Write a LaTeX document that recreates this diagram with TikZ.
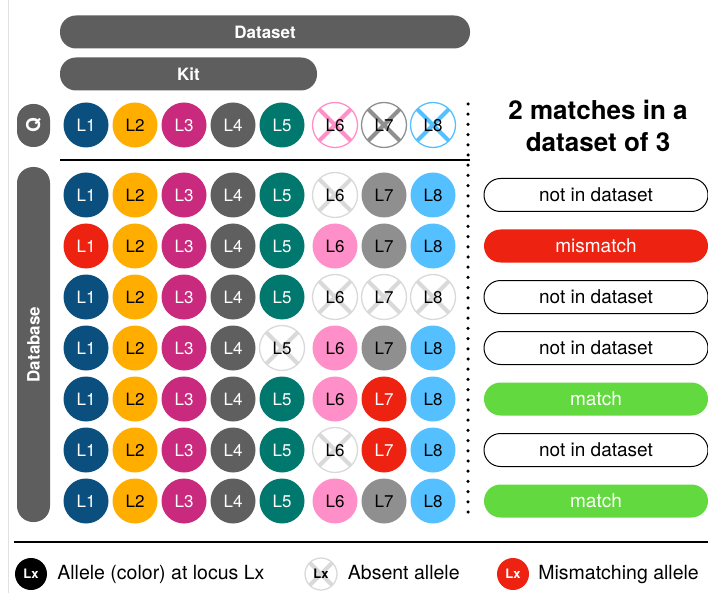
\documentclass[tikz,border=0pt]{standalone}
\usepackage{fontspec}
\setmainfont{TeX Gyre Heros}
\usepackage{tikz}
\usetikzlibrary{positioning}
\definecolor{lcol1}{HTML}{0B4F7F}
\definecolor{lcol2}{HTML}{FFAE00}
\definecolor{lcol3}{HTML}{C92A7D}
\definecolor{lcol4}{HTML}{5F5F5F}
\definecolor{lcol5}{HTML}{00786E}
\definecolor{lcol6}{HTML}{FF8FC8}
\definecolor{lcol7}{HTML}{8F8F8F}
\definecolor{lcol8}{HTML}{55C0FF}
\colorlet{ltxt1}{white}
\colorlet{ltxt2}{black}
\colorlet{ltxt3}{white}
\colorlet{ltxt4}{white}
\colorlet{ltxt5}{white}
\colorlet{ltxt6}{black}
\colorlet{ltxt7}{black}
\colorlet{ltxt8}{black}
\definecolor{barcol}{HTML}{5E5E5E}
\definecolor{miscol}{HTML}{EE2211}
\definecolor{hitcol}{HTML}{62D93F}
\definecolor{gonecol}{HTML}{D9D9D9}
\def\fs#1{\fontsize{#1}{#1}\selectfont}

\tikzset{
	allele/.style={circle, inner sep=0pt, minimum size=45pt, font=\fs{17}},
	locn/.style={allele, fill=lcol#1, text=ltxt#1},
	locr/.style={allele, fill=miscol, text=white},
	loca/.style={absent=gonecol},
	absent/.style={allele, fill=white, draw=#1, line width=1.3pt, text=black,
		path picture={\draw[#1, line width=4pt] (path picture bounding box.north west) -- (path picture bounding box.south east) (path picture bounding box.south west) -- (path picture bounding box.north east);}},
	bar/.style={rectangle, rounded corners=16pt, fill=barcol, text=white, inner sep=0pt, minimum height=33pt, font=\bfseries\fs{17}},
	result/.style={rectangle, rounded corners=16.5pt, minimum width=224pt, minimum height=33pt, inner sep=0pt, font=\fs{19}},
	nods/.style={draw=black, line width=1pt, fill=white},
	mis/.style={fill=miscol, text=white},
	hit/.style={fill=hitcol, text=white},
	keytext/.style={inner sep=0pt, text height=14pt, text depth=4pt, font=\fs{19.5}},
	keydot/.style={allele, minimum size=32pt, font=\bfseries\fs{13}},
}

\begin{document}
\begin{tikzpicture}[x=1pt, y=-1pt]
				\useasboundingbox (0,0) rectangle (708,593);
				\draw[gonecol!80, line width=0.8pt] (8,0) -- (8,593);
				
				\node[bar, minimum width=410pt] (dataset) at (265,32) {Dataset};
				\node[bar, minimum width=257pt] (kit) at (188.5,74) {Kit};
				\node[bar, minimum width=43pt, rotate=90, font=\bfseries\fs{19}] (query) at (33.5,125.5) {Q};
				\node[bar, minimum width=355pt, rotate=90] (database) at (33.5,344.5) {Database};
				
				\foreach \i in {1,...,5}
					\node[locn=\i] (q\i) at ({86+49*(\i-1)}, 125) {L\i};
				\foreach \i in {6,7,8}
					\node[absent=lcol\i] (q\i) at ({90+49*(\i-1)}, 125) {L\i};
				
				\draw[line width=2.5pt] (60,160) -- (470,160);
				\draw[line width=3.5pt, line cap=round, dash pattern=on 0pt off 10.2pt] (468,104) -- (468,522);
				
				\node[font=\bfseries\fontsize{26}{32}\selectfont, align=center] (title) at (598,126) {2 matches in a\\dataset of 3};
				
				\foreach \r/\states in {1/{n,n,n,n,n,a,n,n}, 2/{r,n,n,n,n,n,n,n}, 3/{n,n,n,n,n,a,a,a}, 4/{n,n,n,n,a,n,n,n}, 5/{n,n,n,n,n,n,r,n}, 6/{n,n,n,n,n,a,r,n}, 7/{n,n,n,n,n,n,n,n}}
					\foreach \s [count=\i] in \states
						\node[loc\s=\i] (d\r-\i) at ({86+49*(\i-1)+4*(\i>5)}, {195+51*(\r-1)}) {L\i};
				
				\foreach \r/\kind/\txt in {1/nods/not in dataset, 2/mis/mismatch, 3/nods/not in dataset, 4/nods/not in dataset, 5/hit/match, 6/nods/not in dataset, 7/hit/match}
					\node[result, \kind] (res\r) at (596, {195+51*(\r-1)}) {\txt};
				
				\draw[line width=2.5pt] (14,542) -- (708,542);
				
				\node[keydot, fill=black, text=white] (key1) at (31,574) {Lx};
				\node[keytext, right=10pt of key1] (keytext1) {Allele (color) at locus Lx};
				\node[keydot, absent=gonecol, minimum size=32pt, font=\bfseries\fs{13}] (key2) at (321,574) {Lx};
				\node[keytext, right=10pt of key2] (keytext2) {Absent allele};
				\node[keydot, fill=miscol, text=white] (key3) at (513,574) {Lx};
				\node[keytext, right=9pt of key3] (keytext3) {Mismatching allele};
			\end{tikzpicture}
\end{document}
